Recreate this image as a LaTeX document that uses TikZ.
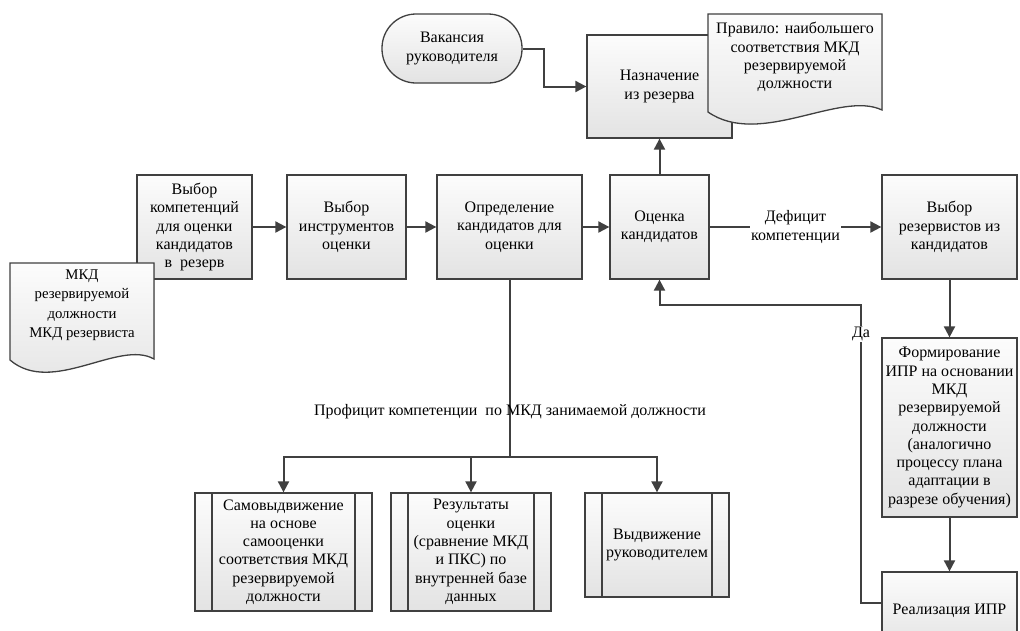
\documentclass[tikz,border=0pt]{standalone}
\usepackage{fontspec}
\setmainfont{Liberation Serif}
\usetikzlibrary{calc,arrows.meta}
\definecolor{ln}{HTML}{404040}
\definecolor{ftop}{HTML}{FCFCFC}
\definecolor{fbot}{HTML}{E3E3E3}
\newcommand\fs{\fontsize{16pt}{18.3pt}\selectfont}
\newcommand\fsd{\fontsize{14.8pt}{19.5pt}\selectfont}
\tikzset{
  box/.style={draw=ln, line width=1.3pt, top color=ftop, bottom color=fbot,
    inner sep=0pt, align=center, font=\fs},
  term/.style={box, rounded corners=34pt},
  pproc/.style={box, path picture={
     \draw[ln, line width=1.3pt] ([xshift=17pt]path picture bounding box.north west) -- ([xshift=17pt]path picture bounding box.south west);
     \draw[ln, line width=1.3pt] ([xshift=-17pt]path picture bounding box.north east) -- ([xshift=-17pt]path picture bounding box.south east);}},
  docshape/.style={draw=ln, line width=1.3pt, top color=ftop, bottom color=fbot},
  doctext/.style={inner sep=0pt, align=center, font=\fs},
  conn/.style={draw=ln, line width=2pt},
  arr/.style={conn, -{Triangle[length=11pt,width=11pt]}},
  lbl/.style={fill=white, inner sep=1.5pt, align=center, font=\fs},
}
\begin{document}
\begin{tikzpicture}[x=1pt,y=-1pt]
\fill[white] (0,0) rectangle (1020,630);
\useasboundingbox (0,0) rectangle (1020,630);
\clip (0,0) rectangle (1020,630);

% top row
\node[term, minimum width=140pt, minimum height=69pt] (vac) at (452,48.5) {Вакансия\\руководителя};
\node[box, minimum width=145pt, minimum height=103pt] (nazn) at (659.5,86.5) {Назначение\\из резерва};
\filldraw[docshape] (708,14) -- (882,14) -- (882,110)
   .. controls (840,90) and (760,148) .. (708,112) -- cycle;
\node[doctext] (rule) at (795,57) {Правило: наибольшего\\соответствия МКД\\резервируемой\\должности};

% middle row
\node[box, minimum width=115pt, minimum height=104pt] (vk) at (194.5,227) {Выбор\\компетенций\\для оценки\\кандидатов\\в~~резерв};
\filldraw[docshape] (10,263) -- (154,263) -- (154,359)
   .. controls (119,339) and (52,396) .. (10,360) -- cycle;
\node[doctext, font=\fsd] (mkd) at (82,305) {МКД\\резервируемой\\должности\\МКД резервиста};
\node[box, minimum width=119pt, minimum height=104pt] (vi) at (346.5,227) {Выбор\\инструментов\\оценки};
\node[box, minimum width=145pt, minimum height=104pt] (opr) at (509.5,227) {Определение\\кандидатов для\\оценки};
\node[box, minimum width=99pt, minimum height=104pt] (ots) at (659.5,227) {Оценка\\кандидатов};
\node[box, minimum width=135pt, minimum height=104pt] (vr) at (949.5,227) {Выбор\\резервистов из\\кандидатов};

% right column
\node[box, minimum width=135pt, minimum height=179pt] (form) at (949.5,427.5) {Формирование\\ИПР на основании\\МКД\\резервируемой\\должности\\(аналогично\\процессу плана\\адаптации в\\разрезе обучения)};
\node[box, minimum width=135pt, minimum height=78pt] (real) at (949.5,611) {Реализация ИПР};

% bottom row
\node[pproc, minimum width=177pt, minimum height=118pt] (b1) at (283.5,552) {Самовыдвижение\\на основе\\самооценки\\соответствия МКД\\резервируемой\\должности};
\node[pproc, minimum width=160pt, minimum height=118pt] (b2) at (471,552) {Результаты\\оценки\\(сравнение МКД\\и ПКС) по\\внутренней базе\\данных};
\node[pproc, minimum width=144pt, minimum height=104pt] (b3) at (657,545) {Выдвижение\\руководителем};

% connectors
\draw[arr] (vac.east) -- ++(21,0) |- (nazn.west);
\draw[arr] (vk) -- (vi);
\draw[arr] (vi) -- (opr);
\draw[arr] (opr) -- (ots);
\draw[arr] (ots) -- (nazn);
\draw[arr] (ots) -- node[lbl] (def) {Дефицит\\компетенции} (vr);
\draw[arr] (vr) -- (form);
\draw[arr] (form) -- (real);

\coordinate (rp) at ($(real.north west)!0.4!(real.south west)$);
\coordinate (dcor) at (861,305);
\draw[arr] (rp) -| (dcor) -| (ots.south);
\node[lbl, inner sep=1pt] (da) at (861,334) {Да};

\coordinate (split) at (509.5,457);
\draw[conn] (opr.south) -- (split);
\node[inner sep=0pt, font=\fs] (prof) at (510,412) {Профицит компетенции~~по МКД занимаемой должности};
\draw[arr] (split) -| (b1.north);
\draw[arr] (split) -| (b2.north);
\draw[arr] (split) -| (b3.north);
\end{tikzpicture}
\end{document}
